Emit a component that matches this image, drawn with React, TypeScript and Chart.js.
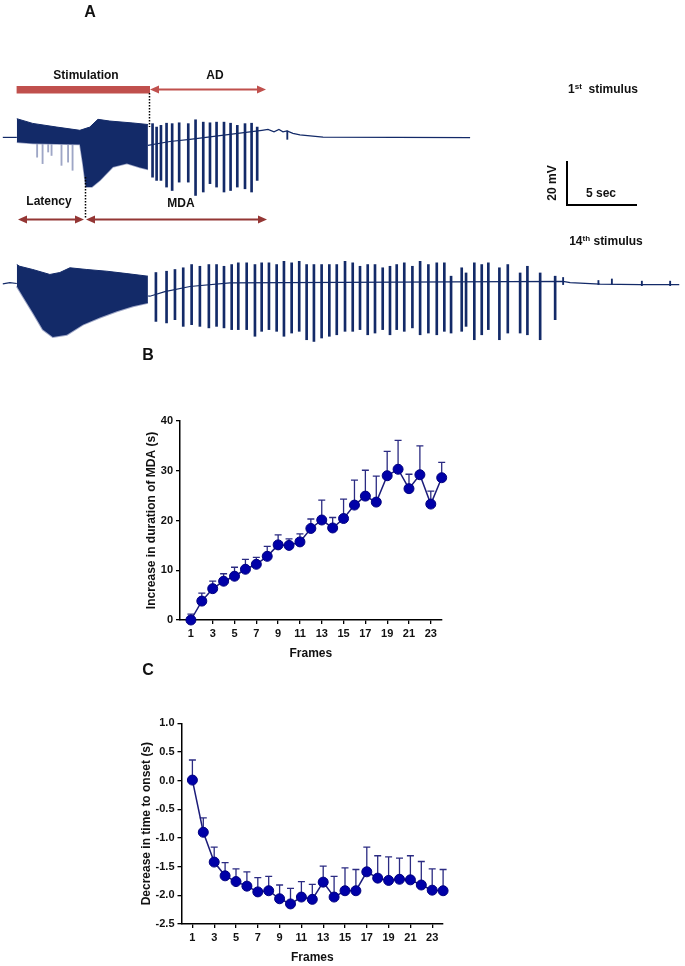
import React, { useEffect, useRef } from "react";
import { Chart, registerables } from "chart.js";
Chart.register(...registerables);

const FONT = '"Liberation Sans", Arial, Helvetica, sans-serif';
Chart.defaults.font.family = FONT;

// ================= Panel A : recordings (time in s, potential in mV vs baseline)
// 1st stimulus
const T1_PRE_T = [0, 1.0];
const T1_PRE_V = [0, 0];
const T1_BLOCK_TOP_T = [1.0, 2.14, 3.86, 5.5, 6.21, 6.79, 7.64, 9.29, 10.36];
const T1_BLOCK_TOP_V = [8.7, 6.5, 4.8, 3.3, 4.8, 8.4, 7.6, 6.7, 6.0];
const T1_BLOCK_BOT_T = [1.0, 2.14, 5.5, 5.71, 5.93, 6.36, 6.93, 7.86, 8.86, 9.79, 10.36];
const T1_BLOCK_BOT_V = [-2.2, -2.8, -3.3, -12.1, -23.1, -23.1, -20.0, -13.8, -12.1, -14.0, -14.9];
const T1_POST_T = [10.36, 11.93, 13.36, 14.79, 16.21, 17.64, 18.5, 18.93, 19.36, 19.71, 20.0, 20.29, 20.71, 21.21, 22.86, 33.36];
const T1_POST_V = [-3.7, -1.9, -0.9, 0.2, 1.4, 2.6, 3.3, 3.7, 2.6, 3.7, 2.6, 3.0, 1.9, 1.2, 0.1, -0.1];
const T1_LAT_T = [2.45, 2.84, 3.24, 3.48, 4.19, 4.66, 4.98];
const T1_LAT_HI = [-2.6, -2.7, -2.8, -2.9, -3.0, -3.1, -3.2];
const T1_LAT_LO = [-9.2, -12.2, -6.8, -8.4, -13.0, -11.5, -15.3];
const T1_SPK_T = [10.69, 10.98, 11.29, 11.69, 12.09, 12.59, 13.24, 13.76, 14.31, 14.79, 15.26, 15.79, 16.26, 16.74, 17.29, 17.76, 18.16];
const T1_SPK_HI = [6.4, 4.8, 5.6, 6.6, 6.4, 6.8, 6.4, 8.2, 7.1, 6.8, 7.1, 7.1, 6.6, 5.6, 6.4, 6.6, 4.8];
const T1_SPK_LO = [-18.5, -20.0, -20.0, -23.1, -24.7, -20.8, -20.8, -27.0, -25.4, -21.5, -23.1, -25.4, -24.7, -23.1, -23.9, -25.4, -20.0];
const T1_BLIP_T = [20.31];
const T1_BLIP_HI = [3.0];
const T1_BLIP_LO = [-0.9];

// 14th stimulus
const T2_PRE_T = [0, 0.5, 1.0];
const T2_PRE_V = [-0.4, 0.2, -0.2];
const T2_BLOCK_TOP_T = [1.0, 1.21, 2.14, 3.36, 4.07, 4.79, 6.0, 7.43, 8.86, 10.36];
const T2_BLOCK_TOP_V = [8.6, 7.8, 6.3, 4.0, 4.9, 7.1, 6.3, 5.5, 4.4, 3.2];
const T2_BLOCK_BOT_T = [1.0, 1.43, 2.14, 2.86, 3.57, 4.57, 5.71, 6.93, 8.14, 9.29, 10.36];
const T2_BLOCK_BOT_V = [-1.5, -6.1, -13.7, -21.6, -25.0, -24.0, -19.3, -16.0, -13.1, -10.8, -9.2];
const T2_POST_T = [10.36, 10.5, 11.57, 13.36, 16.21, 40.0, 40.5, 42.64, 45.5, 48.29];
const T2_POST_V = [-6.0, -6.1, -4.0, -1.6, 0.1, 0.8, 0.2, -0.5, -0.7, -0.7];
const T2_SPK_T = [10.93, 11.69, 12.29, 12.88, 13.48, 14.07, 14.71, 15.26, 15.79, 16.34, 16.81, 17.41, 18.0, 18.48, 19.0, 19.55, 20.07, 20.62, 21.16, 21.69, 22.21, 22.76, 23.31, 23.84, 24.43, 24.98, 25.5, 26.05, 26.57, 27.12, 27.64, 28.12, 28.66, 29.24, 29.79, 30.38, 30.98, 31.52, 32.0, 32.76, 33.07, 33.66, 34.19, 34.66, 35.45, 36.05, 36.93, 37.45, 38.36, 39.43];
const T2_SPK_HI = [4.9, 5.5, 6.3, 7.1, 8.6, 7.8, 8.6, 8.6, 7.8, 8.6, 9.4, 9.4, 8.6, 9.4, 9.4, 8.6, 10.1, 9.4, 10.1, 8.6, 8.6, 8.6, 8.6, 8.6, 10.1, 9.4, 7.8, 8.6, 8.6, 7.1, 7.8, 8.6, 9.4, 7.8, 10.1, 8.6, 9.4, 9.4, 3.2, 7.1, 4.7, 9.4, 8.6, 9.4, 7.1, 8.6, 4.7, 7.8, 4.7, 3.2];
const T2_SPK_LO = [-17.8, -18.5, -17.0, -20.1, -19.3, -20.1, -20.8, -20.1, -20.8, -21.6, -21.6, -21.6, -24.7, -22.4, -21.6, -22.4, -24.7, -23.2, -22.4, -26.3, -27.1, -25.5, -24.7, -24.0, -22.4, -22.4, -21.6, -24.0, -23.2, -21.6, -24.0, -21.6, -22.4, -20.8, -24.0, -23.2, -24.0, -22.4, -23.2, -22.4, -20.1, -26.3, -24.0, -21.6, -26.3, -23.2, -23.2, -24.0, -26.3, -17.0];
const T2_BLIP_T = [40.0, 42.52, 43.48, 45.62, 47.64];
const T2_BLIP_HI = [2.6, 1.2, 1.9, 0.9, 0.9];
const T2_BLIP_LO = [-0.7, -0.7, -0.5, -1.2, -1.2];

// ================= Panels B and C
const FRAMES = [1, 2, 3, 4, 5, 6, 7, 8, 9, 10, 11, 12, 13, 14, 15, 16, 17, 18, 19, 20, 21, 22, 23, 24];
const FRAME_TICKS = [1, 3, 5, 7, 9, 11, 13, 15, 17, 19, 21, 23];
const MDA_MEAN = [0, 3.8, 6.3, 7.8, 8.8, 10.2, 11.2, 12.8, 15.1, 15.0, 15.7, 18.4, 20.1, 18.5, 20.4, 23.1, 24.9, 23.7, 29.0, 30.3, 26.4, 29.2, 23.3, 28.6];
const MDA_SEM = [1.2, 1.6, 1.5, 1.5, 1.8, 2.0, 1.4, 2.0, 2.0, 1.3, 1.6, 1.9, 4.0, 2.1, 3.9, 5.0, 5.2, 5.2, 4.9, 5.8, 2.9, 5.8, 2.6, 3.1];
const ONSET_MEAN = [0.01, -0.9, -1.42, -1.66, -1.76, -1.84, -1.94, -1.92, -2.06, -2.15, -2.03, -2.07, -1.77, -2.03, -1.92, -1.92, -1.59, -1.7, -1.74, -1.72, -1.73, -1.82, -1.91, -1.92];
const ONSET_SEM = [0.35, 0.25, 0.26, 0.23, 0.22, 0.25, 0.25, 0.25, 0.24, 0.27, 0.27, 0.26, 0.28, 0.36, 0.4, 0.37, 0.43, 0.39, 0.41, 0.37, 0.42, 0.41, 0.37, 0.37];

const NAVY = "#132a68";
const LIGHT = "#9ea6c6";

const pts = (t: number[], v: number[]) => t.map((x, i) => ({ x, y: v[i] }));
const bars = (t: number[], lo: number[], hi: number[]) => t.map((x, i) => ({ x, y: [lo[i], hi[i]] }));

const lineDs = (data: any, color: string, width: number, extra: any = {}) => ({
  type: "line",
  data,
  borderColor: color,
  backgroundColor: color,
  borderWidth: width,
  pointRadius: 0,
  tension: 0,
  fill: false,
  ...extra,
});
const barDs = (data: any, color: string, thick: number) => ({
  type: "bar",
  data,
  backgroundColor: color,
  borderWidth: 0,
  barThickness: thick,
  grouped: false,
});

function traceConfig(datasets: any[], yMin: number, yMax: number) {
  return {
    type: "bar",
    data: { datasets },
    options: {
      animation: false,
      responsive: false,
      devicePixelRatio: 1,
      events: [],
      layout: { padding: 0 },
      plugins: { legend: { display: false }, tooltip: { enabled: false } },
      scales: {
        x: { type: "linear", min: -0.2, max: 48.7, offset: false, display: false },
        y: { type: "linear", min: yMin, max: yMax, display: false },
      },
    },
  };
}

const errorBarPlugin = {
  id: "errbars",
  beforeDatasetsDraw(chart: any, _a: any, opts: any) {
    const errs: number[] = opts.errors;
    if (!errs) return;
    const ds = chart.data.datasets[0];
    const xs = chart.scales.x;
    const ys = chart.scales.y;
    const ctx = chart.ctx;
    ctx.save();
    ctx.strokeStyle = opts.color;
    ctx.lineWidth = 1.3;
    ds.data.forEach((p: any, i: number) => {
      const x = xs.getPixelForValue(p.x);
      const y0 = ys.getPixelForValue(p.y);
      const y1 = ys.getPixelForValue(p.y + errs[i]);
      ctx.beginPath();
      ctx.moveTo(x, y0);
      ctx.lineTo(x, y1);
      ctx.moveTo(x - 3.5, y1);
      ctx.lineTo(x + 3.5, y1);
      ctx.stroke();
    });
    ctx.restore();
  },
};

function plotConfig(
  means: number[],
  sems: number[],
  yMin: number,
  yMax: number,
  step: number,
  yTitle: string,
  yWidth: number,
  pad: any,
  fmt: (v: number) => string
) {
  const axisCommon = {
    grid: { display: true, drawOnChartArea: false, drawTicks: true, tickLength: 4, color: "#000", lineWidth: 1.3 },
    border: { display: true, color: "#000", width: 1.5 },
  };
  return {
    type: "line",
    data: {
      datasets: [
        {
          data: pts(FRAMES, means),
          borderColor: "#1c1c7a",
          borderWidth: 1.5,
          pointRadius: 5,
          pointBackgroundColor: "#0000a8",
          pointBorderColor: "#000080",
          pointBorderWidth: 1,
          tension: 0,
          clip: false,
        },
      ],
    },
    options: {
      animation: false,
      responsive: false,
      devicePixelRatio: 1,
      events: [],
      layout: { padding: pad },
      plugins: {
        legend: { display: false },
        tooltip: { enabled: false },
        errbars: { errors: sems, color: "#2b2b82" },
      },
      scales: {
        x: {
          type: "linear",
          min: 0,
          max: 24,
          offset: false,
          ...axisCommon,
          afterBuildTicks: (s: any) => {
            s.ticks = FRAME_TICKS.map((v) => ({ value: v }));
          },
          afterFit: (s: any) => {
            s.height = 45;
          },
          ticks: { color: "#111", font: { size: 11, weight: "bold" }, padding: 3, maxRotation: 0, autoSkip: false },
          title: { display: true, text: "Frames", color: "#111", font: { size: 12, weight: "bold" }, padding: { top: 4, bottom: 4 } },
        },
        y: {
          type: "linear",
          min: yMin,
          max: yMax,
          ...axisCommon,
          afterFit: (s: any) => {
            s.width = yWidth;
          },
          ticks: {
            stepSize: step,
            color: "#111",
            font: { size: 11, weight: "bold" },
            padding: 3,
            callback: (v: any) => fmt(Number(v)),
          },
          title: { display: true, text: yTitle, color: "#111", font: { size: 12, weight: "bold" }, padding: { top: 4, bottom: 4 } },
        },
      },
    },
    plugins: [errorBarPlugin],
  };
}

function ChartBox({ left, top, width, height, make }: any) {
  const ref = useRef<HTMLCanvasElement>(null);
  useEffect(() => {
    const c = new Chart(ref.current as HTMLCanvasElement, make());
    return () => c.destroy();
  }, []);
  return <canvas ref={ref} width={width} height={height} style={{ position: "absolute", left, top, width, height }} />;
}

function Txt({ x, y, size = 12, rot = 0, children }: any) {
  return (
    <div
      style={{
        position: "absolute",
        left: x,
        top: y,
        transform: `translate(-50%,-50%)${rot ? ` rotate(${rot}deg)` : ""}`,
        font: `bold ${size}px ${FONT}`,
        color: "#111",
        whiteSpace: "nowrap",
        lineHeight: 1,
        zIndex: 3,
      }}
    >
      {children}
    </div>
  );
}

function Arrow({ x1, x2, y, color, w }: any) {
  return (
    <g>
      <line x1={x1 + 6} x2={x2 - 6} y1={y} y2={y} stroke={color} strokeWidth={w} />
      <polygon points={`${x1},${y} ${x1 + 9},${y - 4} ${x1 + 9},${y + 4}`} fill={color} />
      <polygon points={`${x2},${y} ${x2 - 9},${y - 4} ${x2 - 9},${y + 4}`} fill={color} />
    </g>
  );
}

export default function App() {
  const trace1 = () =>
    traceConfig(
      [
        lineDs(pts(T1_BLOCK_TOP_T, T1_BLOCK_TOP_V), NAVY, 1, { fill: "+1" }),
        lineDs(pts(T1_BLOCK_BOT_T, T1_BLOCK_BOT_V), LIGHT, 1.5),
        lineDs(pts(T1_PRE_T, T1_PRE_V), NAVY, 1.2),
        lineDs(pts(T1_POST_T, T1_POST_V), NAVY, 1.2),
        barDs(bars(T1_SPK_T, T1_SPK_LO, T1_SPK_HI), NAVY, 2),
        barDs(bars(T1_LAT_T, T1_LAT_LO, T1_LAT_HI), LIGHT, 1.2),
        barDs(bars(T1_BLIP_T, T1_BLIP_LO, T1_BLIP_HI), NAVY, 1.2),
      ],
      -44,
      36
    );
  const trace2 = () =>
    traceConfig(
      [
        lineDs(pts(T2_BLOCK_TOP_T, T2_BLOCK_TOP_V), NAVY, 1, { fill: "+1" }),
        lineDs(pts(T2_BLOCK_BOT_T, T2_BLOCK_BOT_V), LIGHT, 2),
        lineDs(pts(T2_PRE_T, T2_PRE_V), NAVY, 1.2),
        lineDs(pts(T2_POST_T, T2_POST_V), NAVY, 1.2),
        barDs(bars(T2_SPK_T, T2_SPK_LO, T2_SPK_HI), NAVY, 2),
        barDs(bars(T2_BLIP_T, T2_BLIP_LO, T2_BLIP_HI), NAVY, 1.2),
      ],
      -32,
      20
    );
  const plotB = () =>
    plotConfig(MDA_MEAN, MDA_SEM, 0, 40, 10, "Increase in duration of MDA (s)", 40, { left: 10, right: 8.3, top: 21, bottom: 0 }, (v) => String(v));
  const plotC = () =>
    plotConfig(ONSET_MEAN, ONSET_SEM, -2.5, 1.0, 0.5, "Decrease in time to onset (s)", 46, { left: 10.5, right: 6.9, top: 23.3, bottom: 0 }, (v) => v.toFixed(1));

  const DARKRED = "#943634";
  const RED = "#c0504d";

  return (
    <div style={{ position: "fixed", left: 0, top: 0, width: 685, height: 966, overflow: "hidden", background: "#fff" }}>
      <ChartBox left={0} top={60} width={685} height={172} make={trace1} />
      <ChartBox left={0} top={240} width={685} height={112} make={trace2} />
      <ChartBox left={130} top={400} width={320} height={265} make={plotB} />
      <ChartBox left={125} top={700} width={325} height={269} make={plotC} />

      <svg width={685} height={966} style={{ position: "absolute", left: 0, top: 0, zIndex: 2, pointerEvents: "none" }}>
        <rect x={16.6} y={86} width={133.4} height={7.5} fill={RED} />
        <Arrow x1={150} x2={266} y={89.5} color={RED} w={1.8} />
        <line x1={149.5} x2={149.5} y1={93} y2={127} stroke="#000" strokeWidth={1.5} strokeDasharray="1.5,1.5" />
        <line x1={85.5} x2={85.5} y1={177} y2={218} stroke="#000" strokeWidth={1.5} strokeDasharray="1.5,1.5" />
        <Arrow x1={18} x2={84} y={219.5} color={DARKRED} w={2} />
        <Arrow x1={86} x2={267} y={219.5} color={DARKRED} w={2} />
        <line x1={567} x2={567} y1={161} y2={206} stroke="#000" strokeWidth={2} />
        <line x1={566} x2={637} y1={205} y2={205} stroke="#000" strokeWidth={2} />
      </svg>

      <Txt x={90} y={12} size={16}>A</Txt>
      <Txt x={86} y={75}>Stimulation</Txt>
      <Txt x={215} y={75}>AD</Txt>
      <Txt x={603} y={89}>
        1<sup style={{ fontSize: 8, verticalAlign: "4px", lineHeight: 0 }}>st</sup>&nbsp; stimulus
      </Txt>
      <Txt x={49} y={201}>Latency</Txt>
      <Txt x={181} y={203}>MDA</Txt>
      <Txt x={552} y={183} rot={-90}>20 mV</Txt>
      <Txt x={601} y={193}>5 sec</Txt>
      <Txt x={606} y={241}>
        14<sup style={{ fontSize: 8, verticalAlign: "4px", lineHeight: 0 }}>th</sup> stimulus
      </Txt>
      <Txt x={148} y={355} size={16}>B</Txt>
      <Txt x={148} y={670} size={16}>C</Txt>
    </div>
  );
}
